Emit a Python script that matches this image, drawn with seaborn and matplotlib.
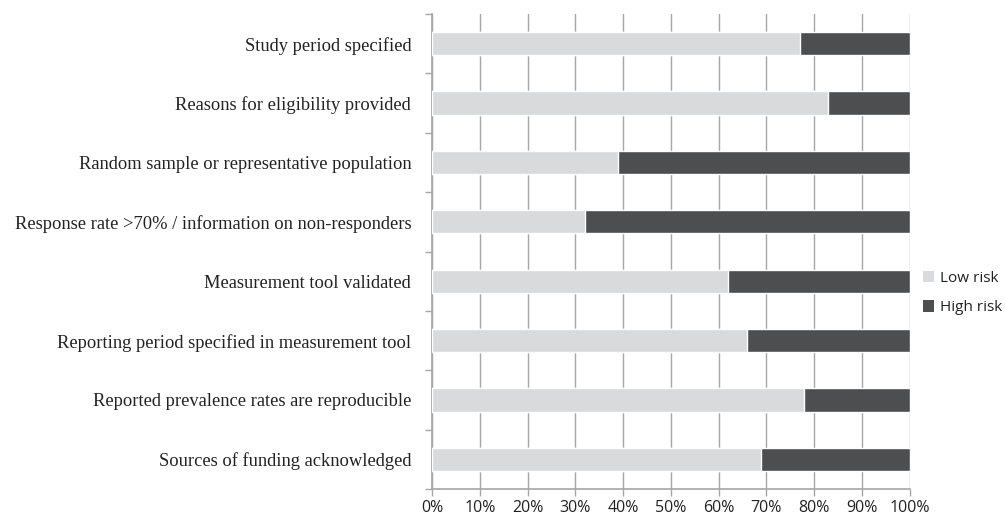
import matplotlib
matplotlib.use("Agg")
import matplotlib.pyplot as plt
import seaborn as sns
import pandas as pd
import numpy as np
from matplotlib.ticker import FixedLocator, PercentFormatter
from matplotlib.patches import Patch

categories = [
    "Study period specified",
    "Reasons for eligibility provided",
    "Random sample or representative population",
    "Response rate >70% / information on non-responders",
    "Measurement tool validated",
    "Reporting period specified in measurement tool",
    "Reported prevalence rates are reproducible",
    "Sources of funding acknowledged",
]
low_risk = [77, 83, 39, 32, 62, 66, 78, 69]
high_risk = [23, 17, 61, 68, 38, 34, 22, 31]
x_ticks = [0, 10, 20, 30, 40, 50, 60, 70, 80, 90, 100]

df = pd.DataFrame({"category": categories, "low": low_risk, "high": high_risk})
df["total"] = df["low"] + df["high"]

sns.set_style("white")
LIGHT = "#D9DADB"
DARK = "#4D4E50"
GRID = "#A6A6A6"

fig = plt.figure(figsize=(10.05, 5.2), dpi=100)
ax = fig.add_axes([432 / 1005, 31 / 520, (909.5 - 432) / 1005, 475 / 520])

sns.barplot(data=df, y="category", x="total", color=DARK, orient="h",
            width=0.39, ax=ax, saturation=1, zorder=3)
sns.barplot(data=df, y="category", x="low", color=LIGHT, orient="h",
            width=0.39, ax=ax, saturation=1, zorder=4)

ax.set_xlim(0, 100)
ax.set_ylim(len(categories) - 0.5, -0.5)
ax.set_xlabel("")
ax.set_ylabel("")

ax.xaxis.set_major_locator(FixedLocator(x_ticks))
ax.xaxis.set_major_formatter(PercentFormatter(decimals=0))
ax.grid(axis="x", color=GRID, linewidth=1.0, zorder=0)
ax.set_axisbelow(True)

for s in ["top", "right"]:
    ax.spines[s].set_visible(False)
for s in ["left", "bottom"]:
    ax.spines[s].set_color(GRID)
    ax.spines[s].set_linewidth(1.2)

ax.tick_params(axis="x", which="major", bottom=True, direction="out", length=5,
               color=GRID, width=1.0, labelsize=11.5, pad=3, labelcolor="#222222")
for lbl in ax.get_xticklabels():
    lbl.set_family(["Open Sans", "DejaVu Sans"])

ax.tick_params(axis="y", which="major", left=False, length=0, pad=15,
               labelsize=13.3, labelcolor="#222222")
ax.yaxis.set_minor_locator(FixedLocator(np.arange(-0.5, len(categories), 1.0)))
ax.tick_params(axis="y", which="minor", left=True, direction="out", length=5,
               color=GRID, width=1.0)
for lbl in ax.get_yticklabels():
    lbl.set_family(["Liberation Serif", "DejaVu Serif"])

handles = [Patch(facecolor=LIGHT, edgecolor="none", label="Low risk"),
           Patch(facecolor=DARK, edgecolor="none", label="High risk")]
leg = fig.legend(handles=handles, loc="center left",
                 bbox_to_anchor=(909 / 1005, 1 - 293 / 520), frameon=False,
                 handlelength=0.75, handleheight=0.75, handletextpad=0.4,
                 labelspacing=0.95, prop={"family": "Open Sans", "size": 11})
for t in leg.get_texts():
    t.set_color("#222222")

fig.savefig("out.png", dpi=100)
